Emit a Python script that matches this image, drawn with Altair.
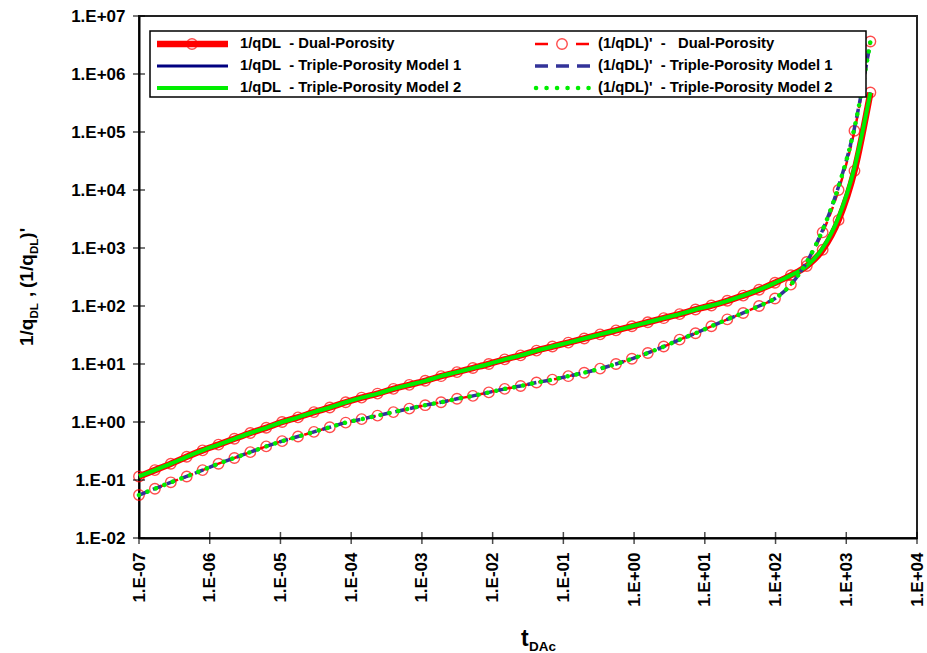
import altair as alt
import pandas as pd

# Dimensionless time t_DAc at the computed points
t_dac = [1.000e-07, 1.678e-07, 2.816e-07, 4.725e-07, 7.929e-07, 1.330e-06, 2.232e-06,
         3.746e-06, 6.286e-06, 1.055e-05, 1.770e-05, 2.970e-05, 4.984e-05, 8.363e-05,
         1.403e-04, 2.355e-04, 3.952e-04, 6.631e-04, 1.113e-03, 1.867e-03, 3.133e-03,
         5.258e-03, 8.823e-03, 1.480e-02, 2.484e-02, 4.169e-02, 6.995e-02, 1.174e-01,
         1.970e-01, 3.305e-01, 5.546e-01, 9.307e-01, 1.562, 2.621, 4.397, 7.379,
         12.38, 20.78, 34.87, 58.51, 98.17, 164.7, 276.4, 463.8, 778.3, 1306.0, 2192.0]

# 1/qDL, dual-porosity model
inv_q_dual = [0.115, 0.148, 0.191, 0.251, 0.324, 0.407, 0.513, 0.646, 0.794, 1.00,
              1.20, 1.48, 1.78, 2.19, 2.63, 3.09, 3.72, 4.37, 5.13, 6.17, 7.24, 8.51,
              10.0, 12.0, 14.1, 17.0, 20.0, 23.4, 27.5, 32.4, 38.0, 44.7, 52.5, 61.7,
              72.4, 87.1, 102.0, 123.0, 151.0, 191.0, 251.0, 339.0, 490.0, 933.0,
              3020.0, 21400.0, 479000.0]

# (1/qDL)', dual-porosity model
deriv_dual = [0.0550, 0.0708, 0.0912, 0.115, 0.148, 0.191, 0.240, 0.302, 0.380, 0.468,
              0.562, 0.676, 0.813, 0.977, 1.12, 1.29, 1.48, 1.70, 1.95, 2.19, 2.51,
              2.82, 3.24, 3.72, 4.17, 4.79, 5.37, 6.17, 7.08, 8.32, 10.0, 12.3, 15.5,
              20.0, 26.3, 33.9, 44.7, 58.9, 75.9, 100.0, 135.0, 234.0, 575.0, 1860.0,
              10000.0, 105000.0, 3630000.0]

# Triple-porosity models coincide with the dual-porosity response until the
# boundary-dominated period, where they rise slightly earlier
inv_q_triple_tail = [1000.0, 3400.0, 24500.0, 479000.0]
deriv_triple_tail = [2050.0, 11500.0, 118000.0, 3630000.0]

inv_q_tp1 = inv_q_dual[:43] + inv_q_triple_tail
inv_q_tp2 = inv_q_dual[:43] + inv_q_triple_tail
deriv_tp1 = deriv_dual[:43] + deriv_triple_tail
deriv_tp2 = deriv_dual[:43] + deriv_triple_tail

x_decades = [1e-7, 1e-6, 1e-5, 1e-4, 1e-3, 1e-2, 1e-1, 1e0, 1e1, 1e2, 1e3, 1e4]
y_decades = [1e-2, 1e-1, 1e0, 1e1, 1e2, 1e3, 1e4, 1e5, 1e6, 1e7]

FONT = "Liberation Sans"
W, H = 778, 522

exp_label = ("'1.E' + (round(log(datum.value)/LN10) >= 0 ? '+' : '-') + "
             "(abs(round(log(datum.value)/LN10)) < 10 ? '0' : '') + "
             "abs(round(log(datum.value)/LN10))")

x_axis = alt.Axis(values=x_decades, labelExpr=exp_label, labelAngle=270,
                  labelFont=FONT, labelFontSize=17, labelFontWeight="bold",
                  labelColor="black", labelPadding=14, ticks=False, grid=False,
                  domainColor="black", domainWidth=2, title=None, labelOverlap=False)
y_axis = alt.Axis(values=y_decades, labelExpr=exp_label,
                  labelFont=FONT, labelFontSize=17, labelFontWeight="bold",
                  labelColor="black", labelPadding=14, ticks=False, grid=False,
                  domainColor="black", domainWidth=2, title=None, labelOverlap=False)
x_scale = alt.Scale(type="log", domain=[1e-7, 1e4], nice=False)
y_scale = alt.Scale(type="log", domain=[1e-2, 1e7], nice=False)

X = alt.X("t:Q", scale=x_scale, axis=x_axis)
Y = alt.Y("v:Q", scale=y_scale, axis=y_axis)


def series(values):
    return pd.DataFrame({"t": t_dac, "v": values})


def curve(values, color, width, dash=None, cap="butt"):
    kw = dict(color=color, strokeWidth=width, interpolate="monotone", strokeCap=cap)
    if dash:
        kw["strokeDash"] = dash
    return alt.Chart(series(values)).mark_line(**kw).encode(x=X, y=Y)


RING_SIZE = 110


def markers(values):
    return alt.Chart(series(values)).mark_point(
        shape="circle", filled=False, color="#ff0000", size=RING_SIZE, strokeWidth=1.4
    ).encode(x=X, y=Y)


RED, NAVY, GREEN, BLUE = "#ff0000", "#000080", "#00ee00", "#333399"

layers = [
    curve(inv_q_dual, RED, 6.5),
    markers(inv_q_dual),
    curve(deriv_dual, RED, 2.5, dash=[10, 6]),
    markers(deriv_dual),
    curve(inv_q_tp1, NAVY, 3),
    curve(inv_q_tp2, GREEN, 4),
    curve(deriv_tp1, BLUE, 3.5, dash=[9, 6]),
    curve(deriv_tp2, GREEN, 4.5, dash=[0.1, 9], cap="round"),
]

# ticks crossing the axis lines
layers.append(
    alt.Chart(pd.DataFrame({"t": x_decades})).mark_tick(
        orient="vertical", size=12, thickness=1.5, color="black"
    ).encode(x=X, y=alt.value(H))
)
layers.append(
    alt.Chart(pd.DataFrame({"v": y_decades})).mark_tick(
        orient="horizontal", size=12, thickness=1.5, color="black"
    ).encode(y=Y, x=alt.value(0))
)

one = alt.Data(values=[{"k": 1}])


def text(s, x, y, size, angle=0, weight="bold", baseline="alphabetic"):
    return alt.Chart(one).mark_text(
        text=s, font=FONT, fontSize=size, fontWeight=weight, color="black",
        align="left", baseline=baseline, angle=angle
    ).encode(x=alt.value(x), y=alt.value(y))


def rule(x1, x2, y, color, width, dash=None, cap="butt"):
    kw = dict(color=color, strokeWidth=width, strokeCap=cap)
    if dash:
        kw["strokeDash"] = dash
    return alt.Chart(one).mark_rule(**kw).encode(
        x=alt.value(x1), x2=alt.value(x2), y=alt.value(y))


def ring(x, y):
    return alt.Chart(one).mark_point(
        shape="circle", filled=False, color=RED, size=RING_SIZE, strokeWidth=1.4
    ).encode(x=alt.value(x), y=alt.value(y))


# legend box
layers.append(
    alt.Chart(one).mark_rect(fill="white", stroke="black", strokeWidth=1.5).encode(
        x=alt.value(11), x2=alt.value(727), y=alt.value(15), y2=alt.value(81))
)
rows = [28, 50, 72]
NB = "\u00a0"
left_labels = [f"1/qDL{NB}{NB}- Dual-Porosity",
               f"1/qDL{NB}{NB}- Triple-Porosity Model 1",
               f"1/qDL{NB}{NB}- Triple-Porosity Model 2"]
right_labels = [f"(1/qDL)'{NB}{NB}-{NB}{NB}{NB}Dual-Porosity",
                f"(1/qDL)'{NB}{NB}- Triple-Porosity Model 1",
                f"(1/qDL)'{NB}{NB}- Triple-Porosity Model 2"]

layers += [
    rule(18, 89, rows[0], RED, 6.5), ring(53, rows[0]),
    rule(18, 89, rows[1], NAVY, 3),
    rule(18, 89, rows[2], GREEN, 4),
    rule(396, 451, rows[0], RED, 2.5, dash=[13, 28]), ring(423, rows[0]),
    rule(396, 451, rows[1], BLUE, 3.5, dash=[13, 8]),
    rule(397, 451, rows[2], GREEN, 4.5, dash=[0.1, 10.4], cap="round"),
]
for r, s in zip(rows, left_labels):
    layers.append(text(s, 101, r, 14.8, baseline="middle"))
for r, s in zip(rows, right_labels):
    layers.append(text(s, 459, r, 14.8, baseline="middle"))

# y-axis title: 1/q_DL , (1/q_DL)'
yt = [("1/q", 330, -106, 19), ("DL", 302.6, -101, 11.5),
      (",", 281, -106, 19), ("(1/q", 272, -106, 19),
      ("DL", 238, -101, 11.5), (")'", 222.7, -106, 19)]
for s, y, x, size in yt:
    layers.append(text(s, x, y, size, angle=270))

# x-axis title: t_DAc
layers.append(text("t", 382, 630, 23))
layers.append(text("DAc", 390, 635, 13.5))

chart = alt.layer(*layers).properties(
    width=W, height=H,
    padding={"left": 139, "top": 16, "right": 10, "bottom": 115},
    autosize=alt.AutoSizeParams(type="none"),
).configure_view(stroke="#222222", strokeWidth=2)

chart.save("out.html", embed_options={"renderer": "svg", "actions": False})
